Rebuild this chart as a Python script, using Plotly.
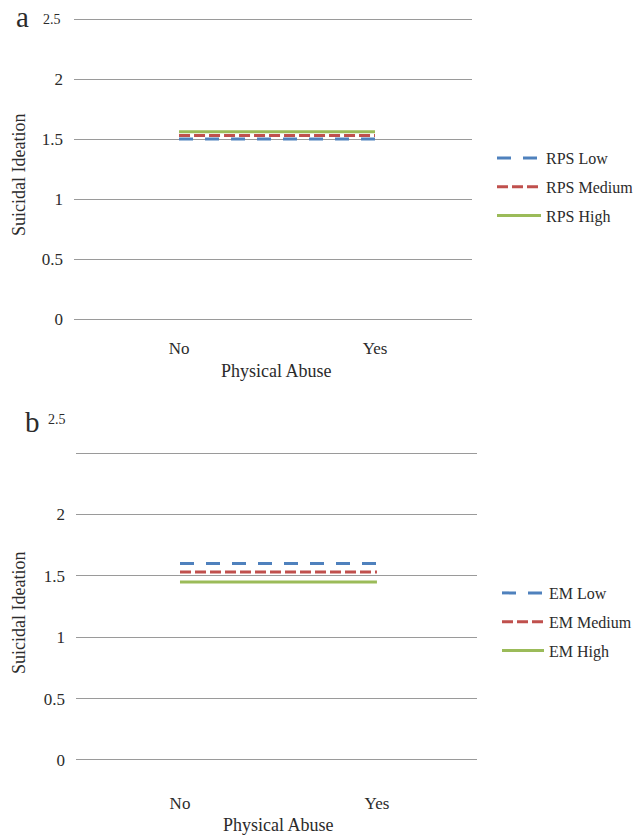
import plotly.graph_objects as go

categories = ["No", "Yes"]
y_ticks = [0, 0.5, 1, 1.5, 2, 2.5]
y_tick_text = ["0", "0.5", "1", "1.5", "2", ""]

rps_names = ["RPS Low", "RPS Medium", "RPS High"]
rps_low = [1.50, 1.50]
rps_medium = [1.53, 1.53]
rps_high = [1.56, 1.56]

em_names = ["EM Low", "EM Medium", "EM High"]
em_low = [1.60, 1.60]
em_medium = [1.53, 1.53]
em_high = [1.45, 1.45]

colors = ["#4F81BD", "#C0504D", "#9BBB59"]
dashes = ["14px,12px", "11px,4px", "solid"]

W, H = 639, 837
FONT = "Liberation Serif, Times New Roman, serif"
TXT = "#2b2b2b"

fig = go.Figure()

xa = [0, 1]
for i, (name, vals) in enumerate(zip(rps_names, [rps_low, rps_medium, rps_high])):
    fig.add_trace(go.Scatter(x=xa, y=vals, mode="lines", name=name,
                             line=dict(color=colors[i], width=3, dash=dashes[i]),
                             xaxis="x", yaxis="y", legend="legend",
                             legendgroup="a" + str(i)))
for i, (name, vals) in enumerate(zip(em_names, [em_low, em_medium, em_high])):
    fig.add_trace(go.Scatter(x=xa, y=vals, mode="lines", name=name,
                             line=dict(color=colors[i], width=3, dash=dashes[i]),
                             xaxis="x2", yaxis="y2", legend="legend2",
                             legendgroup="b" + str(i)))

def px_x(p):
    return p / W

def px_y(p):
    return 1 - p / H

tick_font = dict(family=FONT, size=17, color=TXT)

common_y = dict(range=[-0.01, 2.51], tickvals=y_ticks, ticktext=y_tick_text,
                showgrid=True, gridcolor="#9a9a9a", gridwidth=1, zeroline=False,
                showline=False, ticks="", tickfont=tick_font, automargin=False,
                ticklabelstandoff=10)
common_x = dict(tickvals=[0, 1], ticktext=categories, showgrid=False, zeroline=False,
                showline=False, ticks="", tickfont=tick_font, automargin=False)

leg_font = dict(family=FONT, size=16, color=TXT)

fig.update_layout(
    width=W, height=H, template="none",
    paper_bgcolor="white", plot_bgcolor="white",
    margin=dict(l=0, r=0, t=0, b=0),
    showlegend=True,
    xaxis=dict(domain=[px_x(74), px_x(472)], range=[-0.536, 1.495], anchor="y",
               ticklabelstandoff=16, **common_x),
    yaxis=dict(domain=[px_y(320.2), px_y(17.8)], anchor="x", **common_y),
    xaxis2=dict(domain=[px_x(76), px_x(477)], range=[-0.528, 1.508], anchor="y2",
                ticklabelstandoff=30, **common_x),
    yaxis2=dict(domain=[px_y(761.2), px_y(451.8)], anchor="x2", **common_y),
    legend=dict(x=px_x(492), y=px_y(141), xanchor="left", yanchor="top",
                font=leg_font, itemwidth=44,
                tracegroupgap=5, bgcolor="rgba(0,0,0,0)"),
    legend2=dict(x=px_x(497), y=px_y(576), xanchor="left", yanchor="top",
                 font=leg_font, itemwidth=42,
                 tracegroupgap=5, bgcolor="rgba(0,0,0,0)"),
    font=dict(family=FONT, color=TXT),
)

annots = [
    dict(text="a", x=px_x(22), y=px_y(17), font=dict(size=29)),
    dict(text="b", x=px_x(32), y=px_y(422), font=dict(size=29)),
    dict(text="2.5", x=px_x(52), y=px_y(19), font=dict(size=14)),
    dict(text="2.5", x=px_x(57), y=px_y(419), font=dict(size=14)),
    dict(text="Physical Abuse", x=px_x(276), y=px_y(371), font=dict(size=18)),
    dict(text="Physical Abuse", x=px_x(278), y=px_y(825), font=dict(size=18)),
    dict(text="Suicidal Ideation", x=px_x(19), y=px_y(175), font=dict(size=18), textangle=-90),
    dict(text="Suicidal Ideation", x=px_x(19), y=px_y(613), font=dict(size=18), textangle=-90),
]
for a in annots:
    f = dict(a.pop("font"))
    f.update(family=FONT, color=TXT)
    fig.add_annotation(xref="paper", yref="paper", xanchor="center", yanchor="middle",
                       showarrow=False, font=f, **a)

fig.write_html("out.html", config={"displayModeBar": False},
               post_script="document.body.style.margin='0';")
